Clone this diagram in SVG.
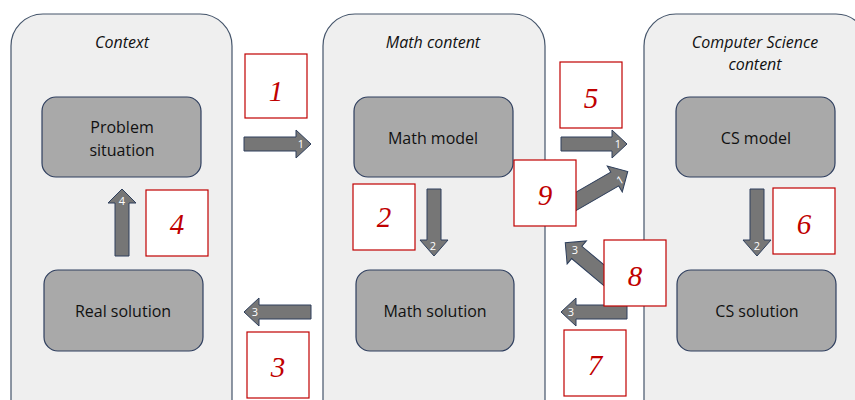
<svg xmlns="http://www.w3.org/2000/svg" width="855" height="400" viewBox="0 0 855 400">
<defs>
<style>
.panel{fill:#efefef;stroke:#44546a;stroke-width:1.2}
.node{fill:#a9a9a9;stroke:#2f3f5f;stroke-width:1.2}
.title{font-family:"Open Sans","Liberation Sans",Arial,sans-serif;font-style:italic;font-size:16px;fill:#111;text-anchor:middle}
.lbl{font-family:"Open Sans","Liberation Sans",Arial,sans-serif;font-size:16px;fill:#111;text-anchor:middle}
.arr{fill:#767676;stroke:#2e3f5c;stroke-width:1}
.an{font-family:"Open Sans","Liberation Sans",Arial,sans-serif;font-size:11px;fill:#fff;text-anchor:middle}
.rb{fill:#fff;stroke:#c00000;stroke-width:1.2}
.rn{font-family:"Liberation Serif","Times New Roman",serif;font-style:italic;font-size:29px;fill:#c00000;text-anchor:middle}
</style>
</defs>
<rect width="855" height="400" fill="#fff"/>
<g id="panel-context"><rect class="panel" x="11" y="14" width="221" height="420" rx="32"/><text class="title" x="122" y="48">Context</text></g>
<g id="panel-math"><rect class="panel" x="323" y="14" width="222" height="420" rx="32"/><text class="title" x="433" y="48">Math content</text></g>
<g id="panel-cs"><rect class="panel" x="644" y="14" width="224" height="420" rx="32"/><text class="title" x="755" y="48">Computer Science</text><text class="title" x="755" y="70">content</text></g>
<g id="problem-situation"><rect class="node" x="42" y="97" width="159" height="80" rx="14"/><text class="lbl" x="122" y="133">Problem</text><text class="lbl" x="122" y="156">situation</text></g>
<g id="real-solution"><rect class="node" x="44" y="270" width="159" height="81" rx="14"/><text class="lbl" x="123" y="317">Real solution</text></g>
<g id="math-model"><rect class="node" x="354" y="97" width="159" height="80" rx="14"/><text class="lbl" x="433" y="144">Math model</text></g>
<g id="math-solution"><rect class="node" x="356" y="270" width="158" height="81" rx="14"/><text class="lbl" x="435" y="317">Math solution</text></g>
<g id="cs-model"><rect class="node" x="676" y="97" width="159" height="80" rx="14"/><text class="lbl" x="756" y="144">CS model</text></g>
<g id="cs-solution"><rect class="node" x="677" y="270" width="159" height="81" rx="14"/><text class="lbl" x="757" y="317">CS solution</text></g>
<g id="connectors">
<path class="arr" transform="translate(244,144)" d="M0,-7H52V-14L67,0L52,14V7H0Z"/>
<text class="an" x="301" y="148">1</text>
<path class="arr" transform="translate(311,312) rotate(180)" d="M0,-7H52V-14L67,0L52,14V7H0Z"/>
<text class="an" x="255" y="316">3</text>
<path class="arr" transform="translate(122,256) rotate(-90)" d="M0,-7H53V-14L67,0L53,14V7H0Z"/>
<text class="an" x="122" y="205">4</text>
<path class="arr" transform="translate(434,189) rotate(90)" d="M0,-7H51V-14L67,0L51,14V7H0Z"/>
<text class="an" x="433" y="250">2</text>
<path class="arr" transform="translate(561,144)" d="M0,-7H51V-14L66,0L51,14V7H0Z"/>
<text class="an" x="618" y="148">1</text>
<path class="arr" transform="translate(627,312) rotate(180)" d="M0,-7H51V-14L66,0L51,14V7H0Z"/>
<text class="an" x="571" y="316">3</text>
<path class="arr" transform="translate(757,189) rotate(90)" d="M0,-7H51V-14L67,0L51,14V7H0Z"/>
<text class="an" x="757" y="250">2</text>
<path class="arr" transform="translate(568,206) rotate(-30)" d="M0,-8H54V-15L69,0L54,15V8H0Z"/>
<text class="an" transform="translate(620,180) rotate(-30)" x="0" y="4">1</text>
<path class="arr" transform="translate(612,282) rotate(220)" d="M0,-8H46V-15L61,0L46,15V8H0Z"/>
<text class="an" x="575" y="254">3</text>
</g>
<g id="label-1"><rect class="rb" x="245" y="54" width="62" height="64"/><text class="rn" x="276" y="101">1</text></g>
<g id="label-2"><rect class="rb" x="353" y="184" width="62" height="66"/><text class="rn" x="384" y="227">2</text></g>
<g id="label-3"><rect class="rb" x="247" y="332" width="62" height="66"/><text class="rn" x="278" y="377">3</text></g>
<g id="label-4"><rect class="rb" x="146" y="190" width="62" height="66"/><text class="rn" x="177" y="234">4</text></g>
<g id="label-5"><rect class="rb" x="560" y="62" width="62" height="66"/><text class="rn" x="591" y="108">5</text></g>
<g id="label-6"><rect class="rb" x="773" y="188" width="62" height="66"/><text class="rn" x="804" y="234">6</text></g>
<g id="label-7"><rect class="rb" x="564" y="330" width="62" height="66"/><text class="rn" x="595" y="375">7</text></g>
<g id="label-8"><rect class="rb" x="604" y="240" width="62" height="66"/><text class="rn" x="635" y="286">8</text></g>
<g id="label-9"><rect class="rb" x="514" y="160" width="62" height="66"/><text class="rn" x="545" y="205">9</text></g>
</svg>
